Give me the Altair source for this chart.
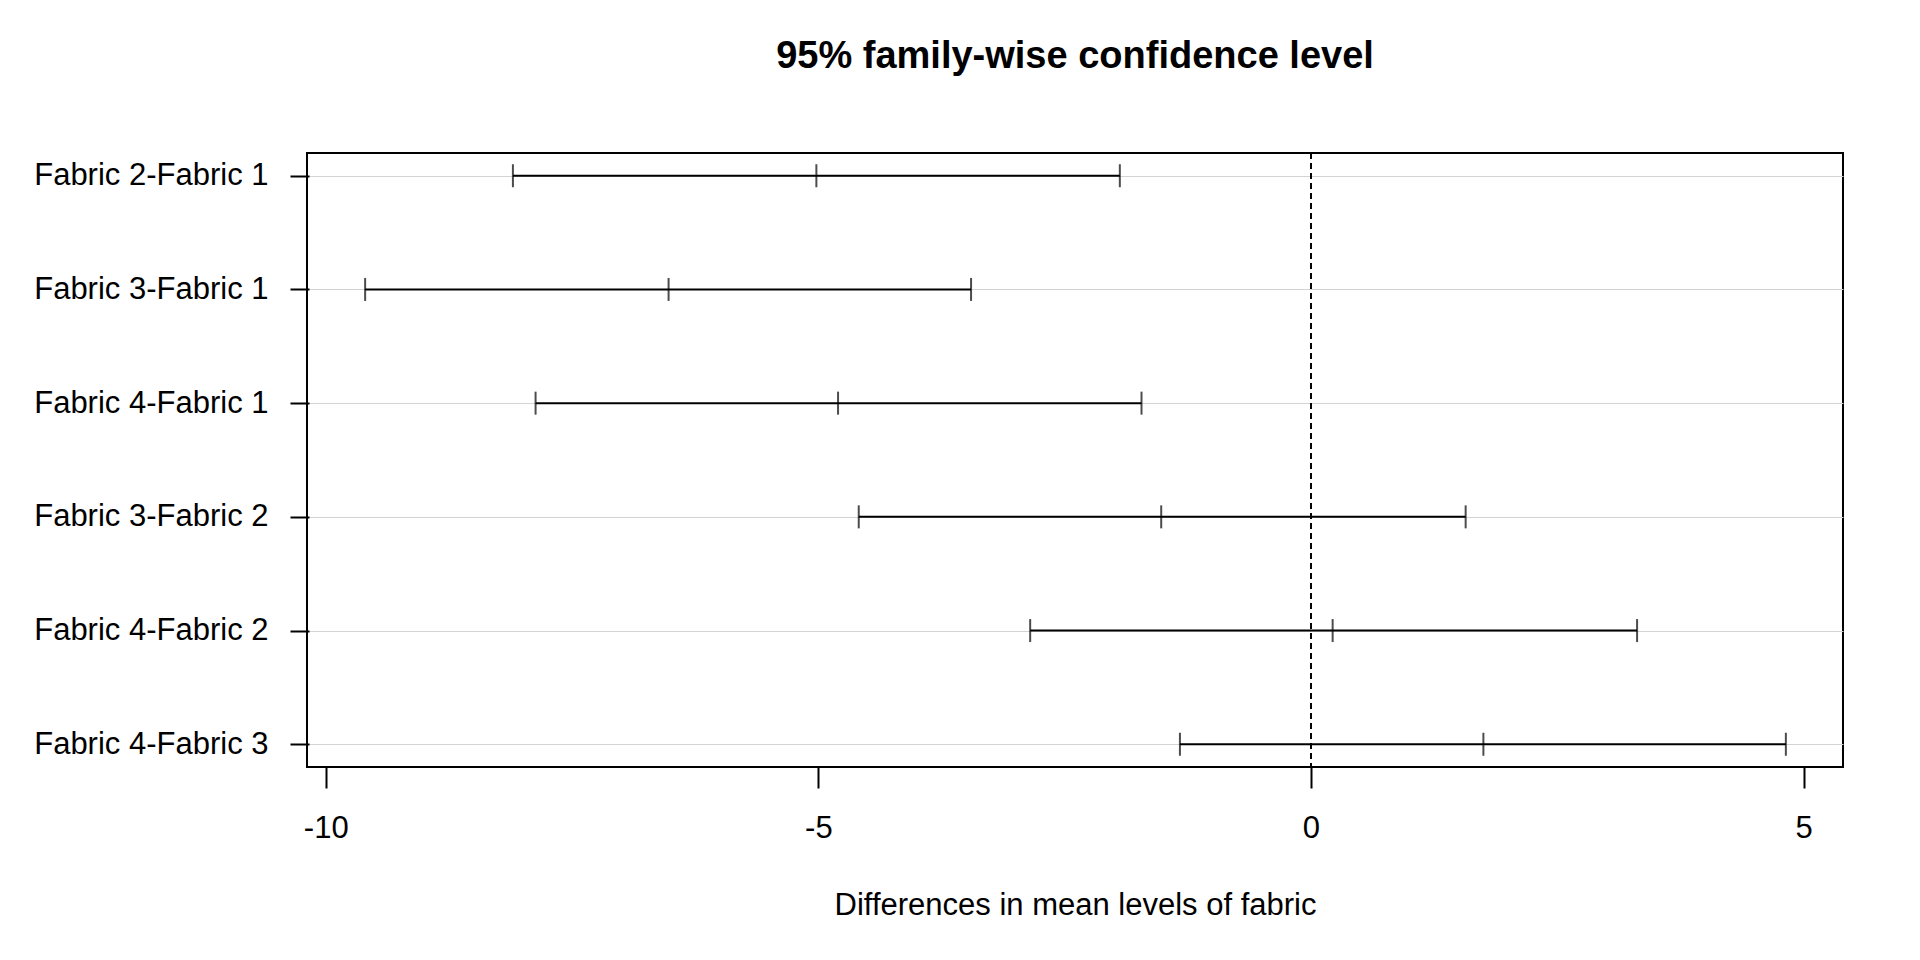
import altair as alt
import pandas as pd

comparisons = [
    "Fabric 2-Fabric 1",
    "Fabric 3-Fabric 1",
    "Fabric 4-Fabric 1",
    "Fabric 3-Fabric 2",
    "Fabric 4-Fabric 2",
    "Fabric 4-Fabric 3",
]
diff = [-5.02, -6.52, -4.80, -1.52, 0.22, 1.75]
lwr = [-8.10, -9.60, -7.87, -4.59, -2.85, -1.33]
upr = [-1.94, -3.45, -1.72, 1.57, 3.31, 4.82]
x_ticks = [-10, -5, 0, 5]

FONT = "Liberation Sans"

df = pd.DataFrame({"comparison": comparisons, "diff": diff, "lwr": lwr, "upr": upr})

x_scale = alt.Scale(domain=[-10.19, 5.40], nice=False, zero=False)
y_scale = alt.Scale(type="point", padding=0.2, domain=comparisons)

x_axis = alt.Axis(
    values=x_ticks,
    labelExpr="toString(datum.value)",
    title="Differences in mean levels of fabric",
    titleFont=FONT,
    titleFontSize=31,
    titleFontWeight="normal",
    titleColor="black",
    titlePadding=47,
    labelFont=FONT,
    labelFontSize=31,
    labelColor="black",
    labelPadding=25,
    tickSize=21,
    tickWidth=2,
    tickColor="black",
    domain=False,
    grid=False,
    labelFlush=False,
    labelOverlap=False,
)

y_axis = alt.Axis(
    title=None,
    labelFont=FONT,
    labelFontSize=31,
    labelColor="black",
    labelPadding=22,
    labelLimit=0,
    tickSize=19,
    tickWidth=2,
    tickColor="black",
    domain=False,
    grid=True,
    gridColor="#D3D3D3",
    gridWidth=1,
    offset=-2,
)

base = alt.Chart(df)

grid_layer = base.mark_rule(color="#D3D3D3", strokeWidth=1, opacity=0).encode(
    y=alt.Y("comparison:N", scale=y_scale, sort=comparisons, axis=y_axis),
)

zero_line = base.mark_rule(color="black", strokeWidth=1, strokeDash=[6, 4]).encode(
    x=alt.datum(0, scale=x_scale, axis=x_axis),
)

bars = base.mark_rule(color="black", strokeWidth=2).encode(
    x=alt.X("lwr:Q", scale=x_scale, axis=x_axis),
    x2="upr:Q",
    y=alt.Y("comparison:N", scale=y_scale, sort=comparisons, axis=y_axis),
)

ticks = base.transform_fold(["lwr", "diff", "upr"], as_=["kind", "value"]).mark_tick(
    color="black", thickness=2, size=23, orient="vertical"
).encode(
    x=alt.X("value:Q", scale=x_scale, axis=x_axis),
    y=alt.Y("comparison:N", scale=y_scale, sort=comparisons, axis=y_axis),
)

chart = (
    alt.layer(grid_layer, zero_line, bars, ticks)
    .properties(
        width=1536,
        height=614,
        title=alt.TitleParams(
            "95% family-wise confidence level",
            font=FONT,
            fontSize=38,
            fontWeight="bold",
            color="black",
            anchor="middle",
            frame="group",
            baseline="alphabetic",
            offset=47,
        ),
        autosize=alt.AutoSizeParams(type="none"),
        padding={"left": 299, "top": 145, "right": 69, "bottom": 185},
    )
    .configure(background="white")
    .configure_view(stroke="black", strokeWidth=2)
)

chart.save("out.html", embed_options={"renderer": "svg", "actions": False})
